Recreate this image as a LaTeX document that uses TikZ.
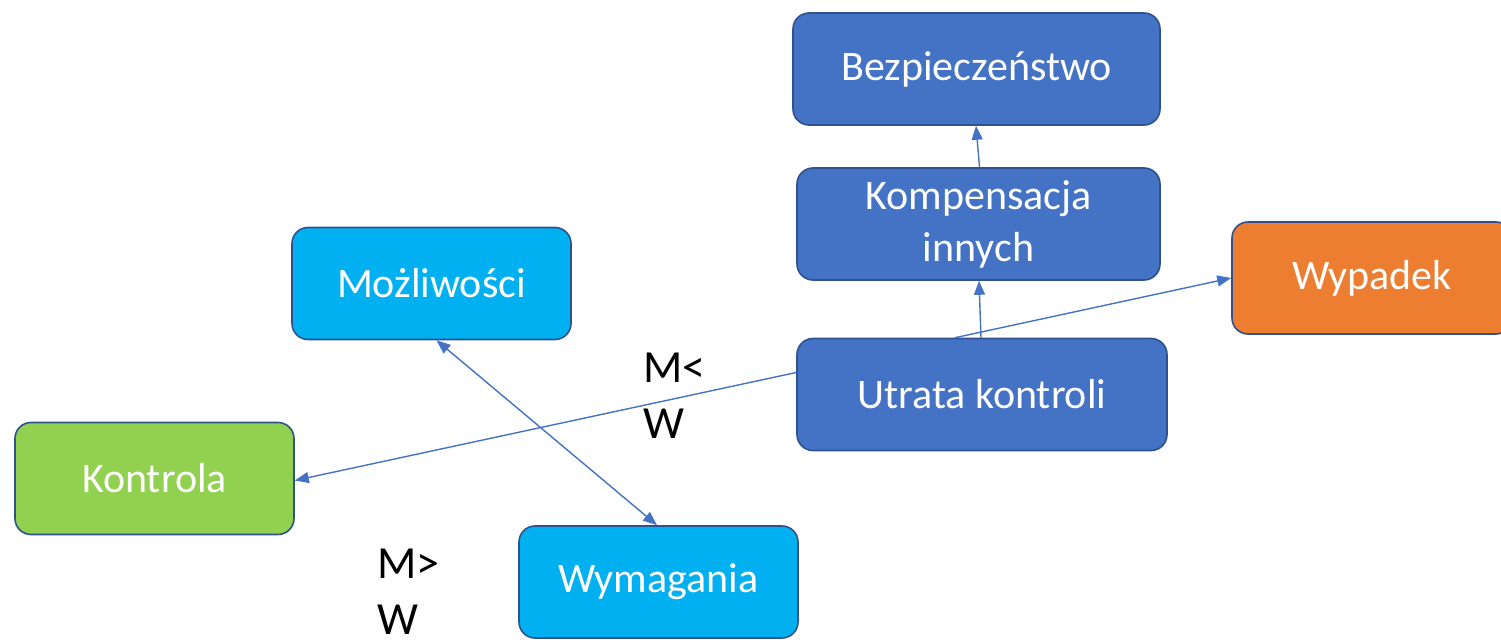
\documentclass[tikz,border=0pt]{standalone}
\usepackage{fontspec}
\setmainfont{Carlito}
\usetikzlibrary{arrows.meta}
\definecolor{dblue}{HTML}{4472C4}
\definecolor{lblue}{HTML}{00B0F0}
\definecolor{lgreen}{HTML}{92D050}
\definecolor{orng}{HTML}{ED7D31}
\definecolor{edge}{HTML}{2F528F}
\begin{document}
\begin{tikzpicture}[x=1pt,y=-1pt,
  box/.style={draw=edge, line width=1.6pt, rounded corners=16pt, text=white,
    minimum height=112pt, inner sep=0pt, align=center,
    font=\fontsize{42}{52}\selectfont},
  lbl/.style={anchor=north west, inner sep=0pt, align=left, text=black,
    font=\fontsize{46}{56}\selectfont},
  conn/.style={draw=dblue, line width=1.4pt, -{Triangle[length=14pt,width=11pt]}},
  conn2/.style={draw=dblue, line width=1.4pt, {Triangle[length=14pt,width=11pt]}-{Triangle[length=14pt,width=11pt]}}]
\useasboundingbox (0,0) rectangle (1501,644);
\node[box, fill=dblue, minimum width=367pt] (bez) at (976.5,69) {\raisebox{-4pt}{Bezpiecze\'nstwo}};
\node[box, fill=dblue, minimum width=363pt] (kom) at (978.5,224) {Kompensacja\\innych};
\node[box, fill=dblue, minimum width=370pt] (utr) at (982,394.5) {\raisebox{-2pt}{Utrata kontroli}};
\node[box, fill=orng, minimum width=280pt] (wyp) at (1372,278) {\raisebox{-2pt}{Wypadek}};
\node[box, fill=lblue, minimum width=279pt] (moz) at (431.5,283.5) {\raisebox{-2pt}{Mo\.zliwo\'sci}};
\node[box, fill=lgreen, minimum width=279pt] (kon) at (154.5,478.5) {\raisebox{-2pt}{Kontrola}};
\node[box, fill=lblue, minimum width=279pt] (wym) at (658.5,582) {\raisebox{-2pt}{Wymagania}};
\node[lbl] (l1) at (643,353) {M<\\W};
\node[lbl] (l2) at (377,549) {M>\\W};
\draw[conn] ([xshift=1pt]kom.north) -- ([xshift=-0.5pt]bez.south);
\draw[conn] ([xshift=-1pt]utr.north) -- ([xshift=0.5pt]kom.south);
\draw[conn] ([xshift=-27pt]utr.north) -- (wyp.west);
\draw[conn] ([yshift=22pt]utr.west) -- ([yshift=-2pt]kon.east);
\draw[conn2] ([xshift=5pt]moz.south) -- ([xshift=-1.5pt]wym.north);
\end{tikzpicture}
\end{document}
